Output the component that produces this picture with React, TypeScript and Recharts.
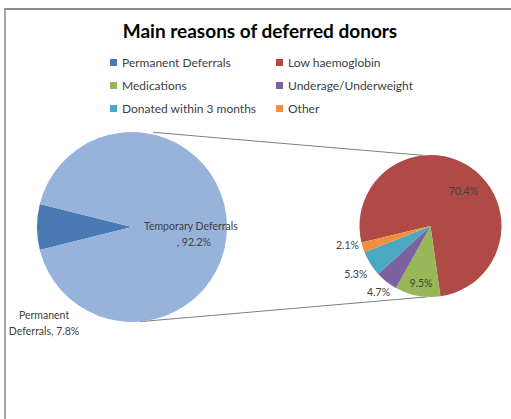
import { PieChart, Pie, Cell } from 'recharts'

// first plot: all deferrals
const mainNames = ['Permanent Deferrals', 'Temporary Deferrals']
const mainValues = [7.8, 92.2]
const mainColors = ['#4a7ab4', '#97b3db']

// second plot: breakdown of temporary deferrals (% of all deferrals)
const splitNames = ['Low haemoglobin', 'Medications', 'Underage/Underweight', 'Donated within 3 months', 'Other']
const splitValues = [70.4, 9.5, 4.7, 5.3, 2.1]
const splitColors = ['#b04a47', '#98b758', '#7c62a0', '#4aa8c2', '#f0903f']

const legendNames = [mainNames[0], ...splitNames]
const legendColors = [mainColors[0], ...splitColors]

const W = 511
const H = 419
const RAD = Math.PI / 180

// geometry of the two pies
const BIG = { cx: 132, cy: 227, r: 95 }
const SMALL = { cx: 430.5, cy: 226, r: 71 }

const mainData = mainNames.map((name, i) => ({ name, value: mainValues[i] }))
const splitData = splitNames.map((name, i) => ({ name, value: splitValues[i] }))

// permanent slice centred on the left
const mainStart = 180 + (mainValues[0] / 100) * 180
const splitStart = 193.5

// label placement: radius factor and angle shift from slice middle
const splitLabelPos = [
  { f: 0.68, da: -8.6 },
  { f: 0.81, da: 1 },
  { f: 1.18, da: 0 },
  { f: 1.25, da: 0.6 },
  { f: 1.2, da: -4.6 },
]

const labelStyle = { fontFamily: 'Lato, sans-serif', fontSize: 10.5, fill: '#404040' }

function polar(cx: number, cy: number, r: number, a: number) {
  return { x: cx + r * Math.cos(-a * RAD), y: cy + r * Math.sin(-a * RAD) }
}

function MainLabel(props: any) {
  const { cx, cy, outerRadius, midAngle, index, value, name } = props
  const words = name.split(' ')
  if (index === 0) {
    const p = polar(cx, cy, outerRadius * 1.37, midAngle + 47.5)
    return (
      <text x={p.x} y={p.y} textAnchor="middle" {...labelStyle}>
        <tspan x={p.x} dy={-4}>{words[0]}</tspan>
        <tspan x={p.x} dy={16}>{`${words[1]}, ${value}%`}</tspan>
      </text>
    )
  }
  const p = polar(cx, cy, outerRadius * 0.62, midAngle)
  return (
    <text x={p.x} y={p.y} textAnchor="middle" {...labelStyle}>
      <tspan x={p.x} dy={3}>{name}</tspan>
      <tspan x={p.x + 3} dy={16}>{`, ${value}%`}</tspan>
    </text>
  )
}

function SplitLabel(props: any) {
  const { cx, cy, outerRadius, midAngle, index, value } = props
  const pos = splitLabelPos[index]
  const p = polar(cx, cy, outerRadius * pos.f, midAngle + pos.da)
  return (
    <text x={p.x} y={p.y} textAnchor="middle" dominantBaseline="central" {...labelStyle}>
      {`${value}%`}
    </text>
  )
}

export default function App() {
  const bigTop = polar(BIG.cx, BIG.cy, BIG.r + 2, 77.4)
  const bigBot = polar(BIG.cx, BIG.cy, BIG.r, -85)
  const smTop = polar(SMALL.cx, SMALL.cy, SMALL.r, 96)
  const smBot = polar(SMALL.cx, SMALL.cy, SMALL.r, -93)

  return (
    <div style={{ position: 'absolute', left: 0, top: 0, width: W, height: H, overflow: 'hidden', background: '#fff', fontFamily: 'Lato, sans-serif' }}>
      <div style={{ position: 'absolute', left: 4, top: 8, width: W, height: H, borderLeft: '2px solid #a8a8a8', borderTop: '2px solid #8c8c8c' }} />
      <div style={{ position: 'absolute', left: 0, top: 19, width: 520, textAlign: 'center', fontSize: 19, fontWeight: 700, color: '#000' }}>
        Main reasons of deferred donors
      </div>
      {legendNames.map((name, i) => (
        <div
          key={name}
          style={{
            position: 'absolute',
            left: i % 2 === 0 ? 110 : 276,
            top: 54 + Math.floor(i / 2) * 23.3,
            height: 16,
            display: 'flex',
            alignItems: 'center',
            fontSize: 12,
            color: '#404040',
            whiteSpace: 'nowrap',
          }}
        >
          <span style={{ display: 'inline-block', width: 7, height: 7, background: legendColors[i], marginRight: 5 }} />
          {name}
        </div>
      ))}
      <svg width={W} height={H} style={{ position: 'absolute', left: 0, top: 0 }}>
        <line x1={bigTop.x} y1={bigTop.y} x2={smTop.x} y2={smTop.y} stroke="#7f7f7f" strokeWidth={1} />
        <line x1={bigBot.x} y1={bigBot.y} x2={smBot.x} y2={smBot.y} stroke="#7f7f7f" strokeWidth={1} />
      </svg>
      <div style={{ position: 'absolute', left: 0, top: 0 }}>
        <PieChart width={W} height={H} margin={{ top: 0, right: 0, bottom: 0, left: 0 }}>
          <Pie
            data={mainData}
            dataKey="value"
            nameKey="name"
            cx={BIG.cx}
            cy={BIG.cy}
            outerRadius={BIG.r}
            startAngle={mainStart}
            endAngle={mainStart - 360}
            stroke="none"
            labelLine={false}
            label={MainLabel}
            isAnimationActive={false}
          >
            {mainData.map((d, i) => (
              <Cell key={d.name} fill={mainColors[i]} />
            ))}
          </Pie>
          <Pie
            data={splitData}
            dataKey="value"
            nameKey="name"
            cx={SMALL.cx}
            cy={SMALL.cy}
            outerRadius={SMALL.r}
            startAngle={splitStart}
            endAngle={splitStart - 360}
            stroke="none"
            labelLine={false}
            label={SplitLabel}
            isAnimationActive={false}
          >
            {splitData.map((d, i) => (
              <Cell key={d.name} fill={splitColors[i]} />
            ))}
          </Pie>
        </PieChart>
      </div>
    </div>
  )
}
